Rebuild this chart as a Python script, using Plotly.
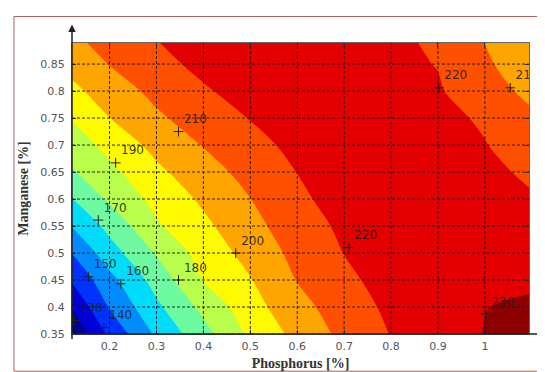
import plotly.graph_objects as go

# ---------------- data ----------------
phosphorus = [0.12, 0.2, 0.3, 0.4, 0.5, 0.6, 0.7, 0.8, 0.9, 1.0, 1.1]
manganese = [0.35, 0.40, 0.45, 0.50, 0.55, 0.60, 0.65, 0.70, 0.75, 0.80, 0.85, 0.90]

row_035 = [121, 142.3, 161.6, 176.6, 192.1, 202.8, 212.7, 220.4, 225.5, 230.3, 232]
row_040 = [131, 150.7, 168, 182.6, 196.1, 206.7, 215, 222.1, 225.8, 229.8, 231.5]
row_045 = [141.2, 157, 173.9, 190.5, 199.5, 210.4, 217.4, 224.6, 226, 227.5, 228.5]
row_050 = [150.2, 165.6, 180.9, 194.1, 203.3, 212.9, 220.2, 224, 225.8, 226.5, 226.5]
row_055 = [160.5, 173, 188.7, 197.8, 207.1, 215.1, 222, 225, 225.8, 225, 223.5]
row_060 = [169.7, 181.8, 193, 201.7, 209.9, 217.5, 225.1, 226, 225.5, 223.5, 220.8]
row_065 = [179, 187.4, 197.9, 206.1, 213.2, 220.2, 223.5, 225, 224.5, 222, 218.5]
row_070 = [184.7, 193.2, 203, 210.5, 216.6, 222.8, 224, 224, 223, 220.3, 216]
row_075 = [190.7, 199.9, 208.4, 214.7, 220.4, 223, 223.5, 223.5, 222, 219, 212]
row_080 = [197.5, 205, 212.6, 218.7, 224.5, 224.5, 224, 223.5, 220.8, 215, 207]
row_085 = [203.5, 210.3, 216.6, 222.9, 223.5, 223.5, 223, 222, 219.7, 211.5, 204]
row_090 = [208.5, 214.2, 220.3, 222, 222.5, 222.5, 222, 221.5, 218.5, 209.5, 202]

z_rows = [row_035, row_040, row_045, row_050, row_055, row_060,
          row_065, row_070, row_075, row_080, row_085, row_090]

level_start, level_end, level_step = 130, 230, 10

band_colors = [
    "rgb(0,0,140)", "rgb(0,0,210)", "rgb(0,50,255)", "rgb(0,140,255)",
    "rgb(0,220,250)", "rgb(110,250,160)", "rgb(185,255,75)", "rgb(255,250,0)",
    "rgb(255,165,0)", "rgb(255,80,0)", "rgb(228,0,0)", "rgb(140,0,0)",
]

label_text = ["130", "140", "150", "160", "170", "180", "190", "200",
              "210", "220", "220", "210", "230"]
label_x = [0.125, 0.188, 0.155, 0.224, 0.176, 0.347, 0.213, 0.469,
           0.347, 0.71, 0.902, 1.054, 1.002]
label_y = [0.375, 0.362, 0.456, 0.443, 0.561, 0.45, 0.667, 0.50,
           0.725, 0.51, 0.806, 0.806, 0.387]

x_ticks = [0.2, 0.3, 0.4, 0.5, 0.6, 0.7, 0.8, 0.9, 1.0]
x_tick_text = ["0.2", "0.3", "0.4", "0.5", "0.6", "0.7", "0.8", "0.9", "1"]
y_ticks = [0.35, 0.4, 0.45, 0.5, 0.55, 0.6, 0.65, 0.7, 0.75, 0.8, 0.85]
y_tick_text = ["0.35", "0.4", "0.45", "0.5", "0.55", "0.6", "0.65", "0.7",
               "0.75", "0.8", "0.85"]

x_range = [0.12, 1.094]
y_range = [0.35, 0.889]

# ---------------- figure ----------------
n = len(band_colors)
colorscale = [[i / (n - 1), c] for i, c in enumerate(band_colors)]

fig = go.Figure()
fig.add_trace(go.Contour(
    x=phosphorus, y=manganese, z=z_rows,
    colorscale=colorscale, showscale=False,
    contours=dict(start=level_start, end=level_end, size=level_step,
                  coloring="fill", showlines=False),
    line=dict(width=0),
    hoverinfo="skip",
))

fig.add_trace(go.Scatter(
    x=label_x, y=label_y, text=label_text, mode="markers+text",
    textposition="top right",
    marker=dict(symbol="cross-thin", size=7, line=dict(width=1, color="#222")),
    textfont=dict(family="DejaVu Sans", size=12, color="rgba(30,30,30,0.9)"),
    cliponaxis=True, showlegend=False, hoverinfo="skip",
))

shapes = []
grid_line = dict(color="rgba(20,20,20,0.9)", width=1, dash="3px,2px")
for v in x_ticks:
    shapes.append(dict(type="line", xref="x", yref="paper", x0=v, x1=v,
                       y0=0, y1=1, line=grid_line, layer="above"))
for v in y_ticks:
    shapes.append(dict(type="line", xref="paper", yref="y", x0=0, x1=1,
                       y0=v, y1=v, line=grid_line, layer="above"))
# outer image frame
shapes.append(dict(type="rect", xref="paper", yref="paper",
                   x0=-0.127, x1=1.046, y0=-0.128, y1=1.091,
                   line=dict(color="#b06060", width=1), layer="above"))

annotations = [
    dict(xref="paper", yref="paper", x=0, y=1.064, ax=0, ay=316,
         showarrow=True, arrowhead=2, arrowsize=1, arrowwidth=1.5,
         arrowcolor="#222", text=""),
    dict(xref="paper", yref="paper", x=1.052, y=0, ax=-481, ay=0,
         showarrow=True, arrowhead=2, arrowsize=1, arrowwidth=1.5,
         arrowcolor="#222", text=""),
]

axis_common = dict(
    showgrid=False, zeroline=False, showline=True, linecolor="#666",
    linewidth=1, mirror="ticks", ticks="inside", ticklen=4,
    tickcolor="#333", tickfont=dict(family="DejaVu Sans", size=11, color="#555"),
)

fig.update_layout(
    width=545, height=372,
    margin=dict(l=64, r=24, t=35, b=40),
    paper_bgcolor="white", plot_bgcolor="white",
    showlegend=False,
    shapes=shapes, annotations=annotations,
    xaxis=dict(range=x_range, tickvals=x_ticks, ticktext=x_tick_text,
               ticklabelstandoff=2,
               title=dict(text="Phosphorus [%]", standoff=5,
                          font=dict(family="Liberation Serif", size=14,
                                    color="#333", weight="bold")),
               **axis_common),
    yaxis=dict(range=y_range, tickvals=y_ticks, ticktext=y_tick_text,
               ticklabelstandoff=4,
               title=dict(text="Manganese [%]", standoff=8,
                          font=dict(family="Liberation Serif", size=14,
                                    color="#333", weight="bold")),
               **axis_common),
)

fig.write_html("out.html")
